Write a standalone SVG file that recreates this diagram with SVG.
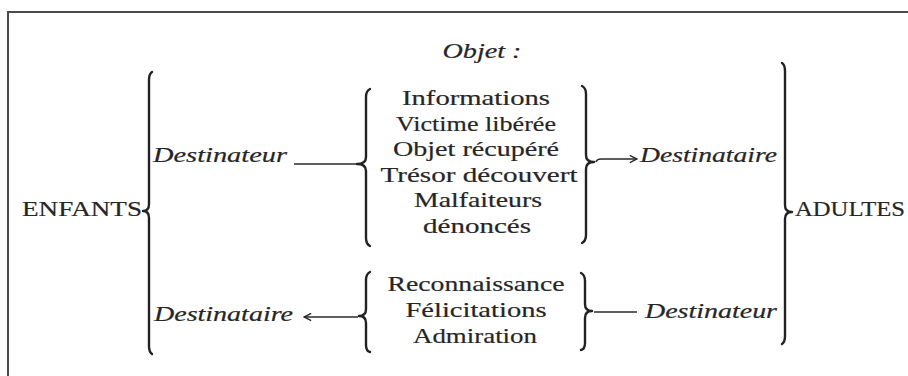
<svg xmlns="http://www.w3.org/2000/svg" width="908" height="376" viewBox="0 0 908 376">
<defs>
<style>
.t{font-family:"Liberation Serif","Times New Roman",serif;font-size:22px;fill:#262626;stroke:#262626;stroke-width:0.2}
.i{font-style:italic}
.c{text-anchor:middle}
.br{fill:none;stroke:#222;stroke-width:2.4;stroke-linecap:round;stroke-linejoin:round}
.ln{fill:none;stroke:#2a2a2a;stroke-width:1.6}
</style>
<marker id="ah" viewBox="0 0 10 10" refX="9" refY="5" markerWidth="9" markerHeight="9" markerUnits="userSpaceOnUse" orient="auto">
<path d="M1,1 L9,5 L1,9" fill="none" stroke="#2a2a2a" stroke-width="1.6"/>
</marker>
</defs>
<rect width="908" height="376" fill="#fff"/>
<rect x="8" y="12" width="920" height="390" fill="none" stroke="#4a4a4a" stroke-width="2"/>

<g id="objet-label"><text class="t i c" x="482" y="58" textLength="79" lengthAdjust="spacingAndGlyphs">Objet :</text></g>

<g id="enfants">
<text class="t" x="22" y="216" textLength="120" lengthAdjust="spacingAndGlyphs">ENFANTS</text>
<path class="br" d="M152,72 Q149,74 149,80 L149,204 Q149,211 143,211 Q149,211 149,218 L149,346 Q149,352 152,354"/>
</g>

<g id="adultes">
<path class="br" d="M782,63 Q785,65 785,71 L785,205 Q785,212 792,212 Q785,212 785,219 L785,336 Q785,342 782,344"/>
<text class="t" x="795" y="216" textLength="110" lengthAdjust="spacingAndGlyphs">ADULTES</text>
</g>

<g id="destinateur-enfants"><text class="t i" x="153" y="162" textLength="134" lengthAdjust="spacingAndGlyphs">Destinateur</text></g>

<g id="objet-liste">
<path class="br" d="M370,89 Q366,91 366,97 L366,157 Q366,164 357,164 Q366,164 366,171 L366,238 Q366,244 370,246"/>
<text class="t c" x="476" y="105" textLength="148" lengthAdjust="spacingAndGlyphs">Informations</text>
<text class="t c" x="476" y="131" textLength="160" lengthAdjust="spacingAndGlyphs">Victime libérée</text>
<text class="t c" x="476" y="156" textLength="166" lengthAdjust="spacingAndGlyphs">Objet  récupéré</text>
<text class="t c" x="479" y="182" textLength="197" lengthAdjust="spacingAndGlyphs">Trésor  découvert</text>
<text class="t c" x="478" y="207" textLength="128" lengthAdjust="spacingAndGlyphs">Malfaiteurs</text>
<text class="t c" x="477" y="233" textLength="108" lengthAdjust="spacingAndGlyphs">dénoncés</text>
<path class="br" d="M582,86 Q586,88 586,94 L586,155 Q586,162 594,162 Q586,162 586,169 L586,235 Q586,241 582,243"/>
</g>

<g id="destinataire-adultes"><text class="t i" x="640" y="162" textLength="137" lengthAdjust="spacingAndGlyphs">Destinataire</text></g>

<g id="reconnaissance-liste">
<path class="br" d="M370,272 Q366,274 366,280 L366,309 Q366,316 359,316 Q366,316 366,323 L366,345 Q366,351 370,352"/>
<text class="t c" x="476" y="291" textLength="177" lengthAdjust="spacingAndGlyphs">Reconnaissance</text>
<text class="t c" x="476" y="317" textLength="141" lengthAdjust="spacingAndGlyphs">Félicitations</text>
<text class="t c" x="475" y="343" textLength="124" lengthAdjust="spacingAndGlyphs">Admiration</text>
<path class="br" d="M581,273 Q585,275 585,281 L585,304 Q585,311 592,311 Q585,311 585,318 L585,343 Q585,349 581,350"/>
</g>

<g id="destinataire-enfants"><text class="t i" x="154" y="321" textLength="139" lengthAdjust="spacingAndGlyphs">Destinataire</text></g>
<g id="destinateur-adultes"><text class="t i" x="645" y="318" textLength="132" lengthAdjust="spacingAndGlyphs">Destinateur</text></g>

<g id="connectors">
<path class="ln" d="M294,164 L356,164"/>
<path class="ln" d="M596,162 Q597,159 601,159 L637,159" marker-end="url(#ah)"/>
<path class="ln" d="M358,317 L304,317" marker-end="url(#ah)"/>
<path class="ln" d="M594,312 L637,312"/>
</g>
</svg>
